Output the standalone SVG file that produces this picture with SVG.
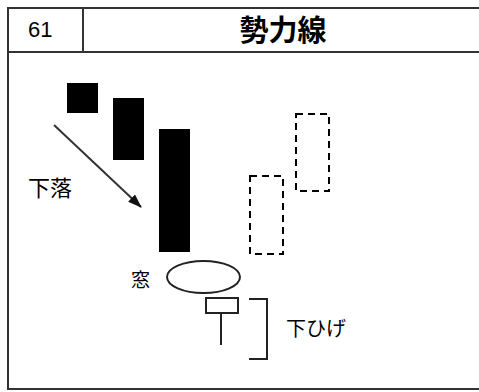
<svg xmlns="http://www.w3.org/2000/svg" width="479" height="392" viewBox="0 0 479 392">
<defs>
<style>
.frame{fill:none;stroke:#333;stroke-width:2}
.solid{fill:#000}
.dash{fill:none;stroke:#000;stroke-width:2;stroke-dasharray:7,5}
.ln{fill:none;stroke:#222;stroke-width:2}
.t{font-family:"Noto Sans CJK JP","Noto Sans CJK SC",sans-serif;fill:#000}
</style>
<marker id="ah" markerWidth="14" markerHeight="10" refX="13" refY="5" orient="auto" markerUnits="userSpaceOnUse" viewBox="0 0 14 10">
<path d="M0,0 L14,5 L0,10 Z" fill="#111"/>
</marker>
</defs>
<rect x="0" y="0" width="479" height="392" fill="#fff"/>
<g id="frame">
<rect class="frame" x="8" y="8" width="480" height="381" stroke="#555"/>
<line class="frame" x1="8" y1="52" x2="479" y2="52"/>
<line class="frame" x1="83" y1="8" x2="83" y2="52"/>
<text class="t" x="28" y="37" style="font-family:'Liberation Sans',Arial,sans-serif" font-size="22">61</text>
<text class="t" x="283" y="41" font-size="29" font-weight="bold" text-anchor="middle">勢力線</text>
</g>
<g id="candle1"><rect class="solid" x="67" y="83" width="31" height="30"/></g>
<g id="candle2"><rect class="solid" x="113" y="98" width="31" height="62"/></g>
<g id="candle3"><rect class="solid" x="159" y="129" width="31" height="123"/></g>
<g id="candle4"><rect class="dash" x="250" y="176" width="33" height="78"/></g>
<g id="candle5"><rect class="dash" x="296" y="114" width="33" height="77"/></g>
<g id="window"><ellipse cx="203.5" cy="277" rx="36.5" ry="16" fill="none" stroke="#222" stroke-width="2"/></g>
<g id="candle6">
<rect x="206" y="298" width="32" height="15" fill="#fff" stroke="#222" stroke-width="2"/>
<line class="ln" x1="221" y1="313" x2="221" y2="345"/>
</g>
<g id="connectors">
<line x1="54" y1="125" x2="141" y2="207" stroke="#333" stroke-width="2" marker-end="url(#ah)"/>
<polyline class="ln" points="249,299 267,299 267,359 249,359"/>
</g>
<g id="labels">
<text class="t" x="28" y="196" font-size="22">下落</text>
<text class="t" x="131" y="287" font-size="19">窓</text>
<text class="t" x="286" y="336" font-size="20">下ひげ</text>
</g>
</svg>
